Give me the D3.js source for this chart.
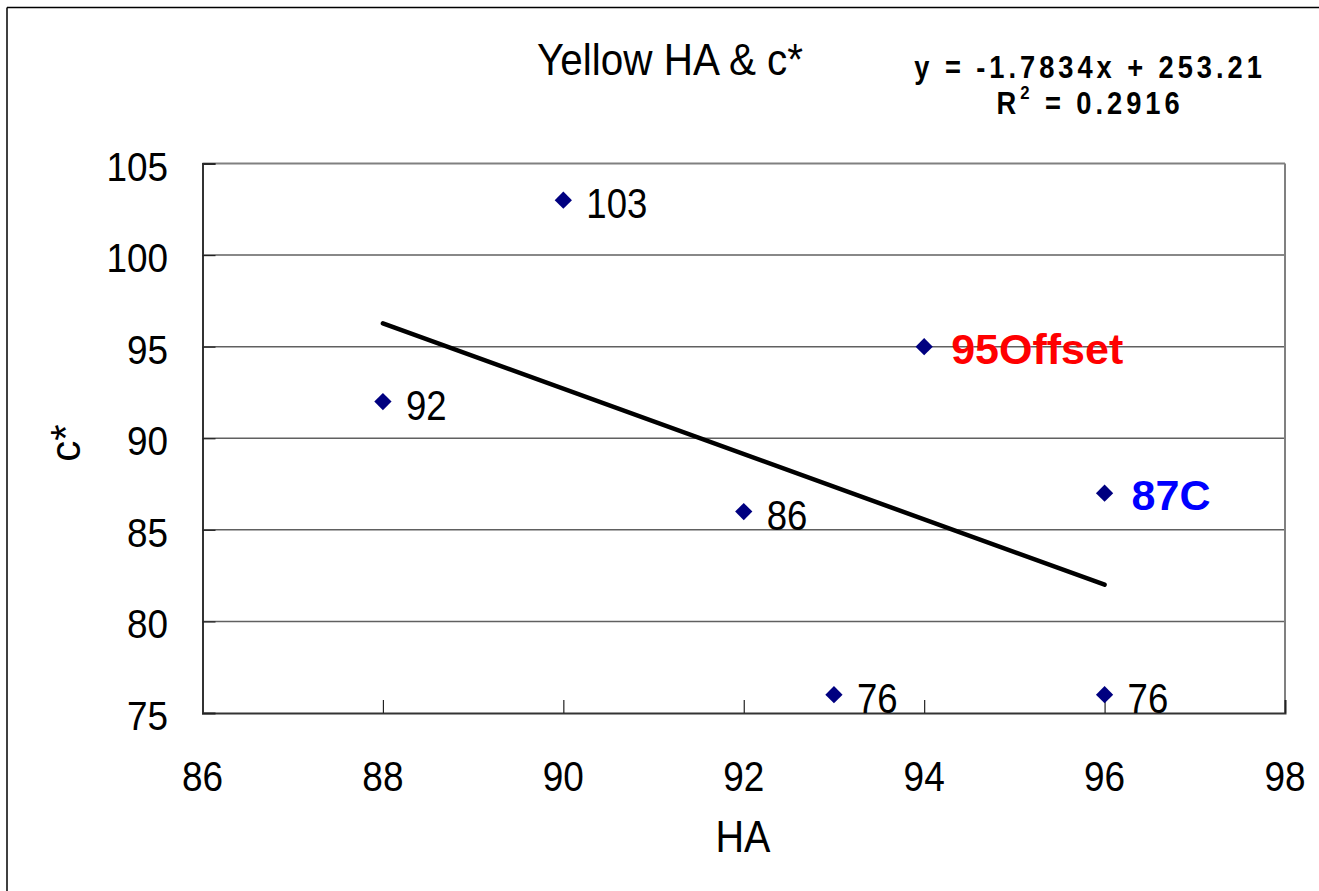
<!DOCTYPE html>
<html>
<head>
<meta charset="utf-8">
<script src="https://cdn.jsdelivr.net/npm/d3@7/dist/d3.min.js"></script>
<style>
  html, body { margin: 0; padding: 0; background: #fff; }
  svg { display: block; }
  text { font-family: "Liberation Sans", Arial, sans-serif; }
</style>
</head>
<body>
<svg id="chart" width="1319" height="891"></svg>
<script>
// ---- data ----
const hA = [88, 90, 92, 93, 94, 96, 96];
const cStar = [92, 103, 86, 76, 95, 87, 76];
const pointLabels = ["92", "103", "86", "76", "95Offset", "87C", "76"];
const xTicks = [86, 88, 90, 92, 94, 96, 98];
const yTicks = [75, 80, 85, 90, 95, 100, 105];
const trendSlope = -1.7834;
const trendIntercept = 253.21;
const trendR2 = 0.2916;
const titleText = "Yellow HA & c*";
const xTitle = "HA";
const yTitle = "c*";

// ---- styles ----
const labelColor = { "95Offset": "#ff0000", "87C": "#0000ff" };

const svg = d3.select("#chart");
const W = 1319, H = 891;
const plot = { left: 202.5, right: 1285, top: 163.5, bottom: 713 };

const x = d3.scaleLinear().domain([86, 98]).range([plot.left, plot.right]);
const y = d3.scaleLinear().domain([75, 105]).range([plot.bottom, plot.top]);

function txt(g, tx, ty, s, opts) {
  const o = Object.assign({ size: 40, sx: 0.9, anchor: "start", fill: "#000", weight: "normal", ls: 0 }, opts || {});
  return g.append("text")
    .attr("transform", `translate(${tx},${ty}) scale(${o.sx},1)`)
    .attr("text-anchor", o.anchor)
    .attr("font-size", o.size)
    .attr("font-weight", o.weight)
    .attr("letter-spacing", o.ls)
    .attr("fill", o.fill)
    .text(s);
}

// outer frame (left and top visible)
svg.append("line").attr("x1", 7).attr("x2", 7).attr("y1", 7.5).attr("y2", H)
  .attr("stroke", "#000").attr("stroke-width", 1.5);
svg.append("line").attr("x1", 7).attr("x2", W).attr("y1", 7.5).attr("y2", 7.5)
  .attr("stroke", "#000").attr("stroke-width", 1.5);

// gridlines
svg.append("g")
  .selectAll("line").data(yTicks.filter(t => t > 75 && t < 105)).join("line")
  .attr("x1", plot.left).attr("x2", plot.right)
  .attr("y1", d => y(d)).attr("y2", d => y(d))
  .attr("stroke", "#606060").attr("stroke-width", 1.5);

// plot border top & right (grey)
svg.append("line").attr("x1", plot.left).attr("x2", plot.right)
  .attr("y1", plot.top).attr("y2", plot.top).attr("stroke", "#808080").attr("stroke-width", 2);
svg.append("line").attr("x1", plot.right).attr("x2", plot.right)
  .attr("y1", plot.top).attr("y2", plot.bottom).attr("stroke", "#808080").attr("stroke-width", 2);

// axes with inward ticks
const xAxis = d3.axisBottom(x).tickValues(xTicks).tickSize(-13).tickFormat("");
const yAxis = d3.axisLeft(y).tickValues(yTicks).tickSize(-13).tickFormat("");
const gx = svg.append("g").attr("transform", `translate(0,${plot.bottom})`).call(xAxis);
const gy = svg.append("g").attr("transform", `translate(${plot.left},0)`).call(yAxis);
[gx, gy].forEach(g => {
  g.select(".domain").attr("stroke", "#333").attr("stroke-width", 2);
  g.selectAll(".tick line").attr("stroke", "#222").attr("stroke-width", 1.2);
});

// tick labels
const tl = svg.append("g");
xTicks.forEach(t => txt(tl, x(t), 791, String(t), { size: 42, sx: 0.88, anchor: "middle" }));
yTicks.forEach(t => txt(tl, 168, y(t) + 17, String(t), { size: 41, sx: 0.9, anchor: "end" }));

// trendline
const xMin = d3.min(hA), xMax = d3.max(hA);
svg.append("line")
  .attr("x1", x(xMin)).attr("y1", y(trendSlope * xMin + trendIntercept))
  .attr("x2", x(xMax)).attr("y2", y(trendSlope * xMax + trendIntercept))
  .attr("stroke", "#000").attr("stroke-width", 4.5).attr("stroke-linecap", "round");

// markers
const sym = d3.symbol().type(d3.symbolDiamond2).size(190);
svg.append("g").selectAll("path").data(hA).join("path")
  .attr("d", sym)
  .attr("transform", (d, i) => `translate(${x(d)},${y(cStar[i])})`)
  .attr("fill", "#000080");

// point labels
const pl = svg.append("g");
pointLabels.forEach((s, i) => {
  const c = labelColor[s];
  if (c) {
    txt(pl, x(hA[i]) + 27, y(cStar[i]) + 17, s, { size: 43, sx: 1.0, fill: c, weight: "bold" });
  } else {
    txt(pl, x(hA[i]) + 23, y(cStar[i]) + 18, s, { size: 42, sx: 0.87 });
  }
});

// title
txt(svg, 670, 75, titleText, { size: 44, sx: 0.92, anchor: "middle" });

// equation
txt(svg, 1090, 78, `y = ${trendSlope}x + ${trendIntercept}`,
  { size: 31, sx: 0.88, anchor: "middle", weight: "bold", ls: 4.5 });
const r2 = svg.append("text")
  .attr("transform", "translate(1090,114) scale(0.88,1)")
  .attr("text-anchor", "middle")
  .attr("font-size", 31).attr("font-weight", "bold").attr("letter-spacing", 4.5);
r2.append("tspan").text("R");
r2.append("tspan").attr("font-size", 19).attr("dy", -15).text("2");
r2.append("tspan").attr("dy", 15).text(` = ${trendR2}`);

// axis titles
txt(svg, 743, 852, xTitle, { size: 44, sx: 0.9, anchor: "middle" });
svg.append("text")
  .attr("transform", "translate(80,443) rotate(-90)")
  .attr("text-anchor", "middle")
  .attr("font-size", 42)
  .text(yTitle);
</script>
</body>
</html>
